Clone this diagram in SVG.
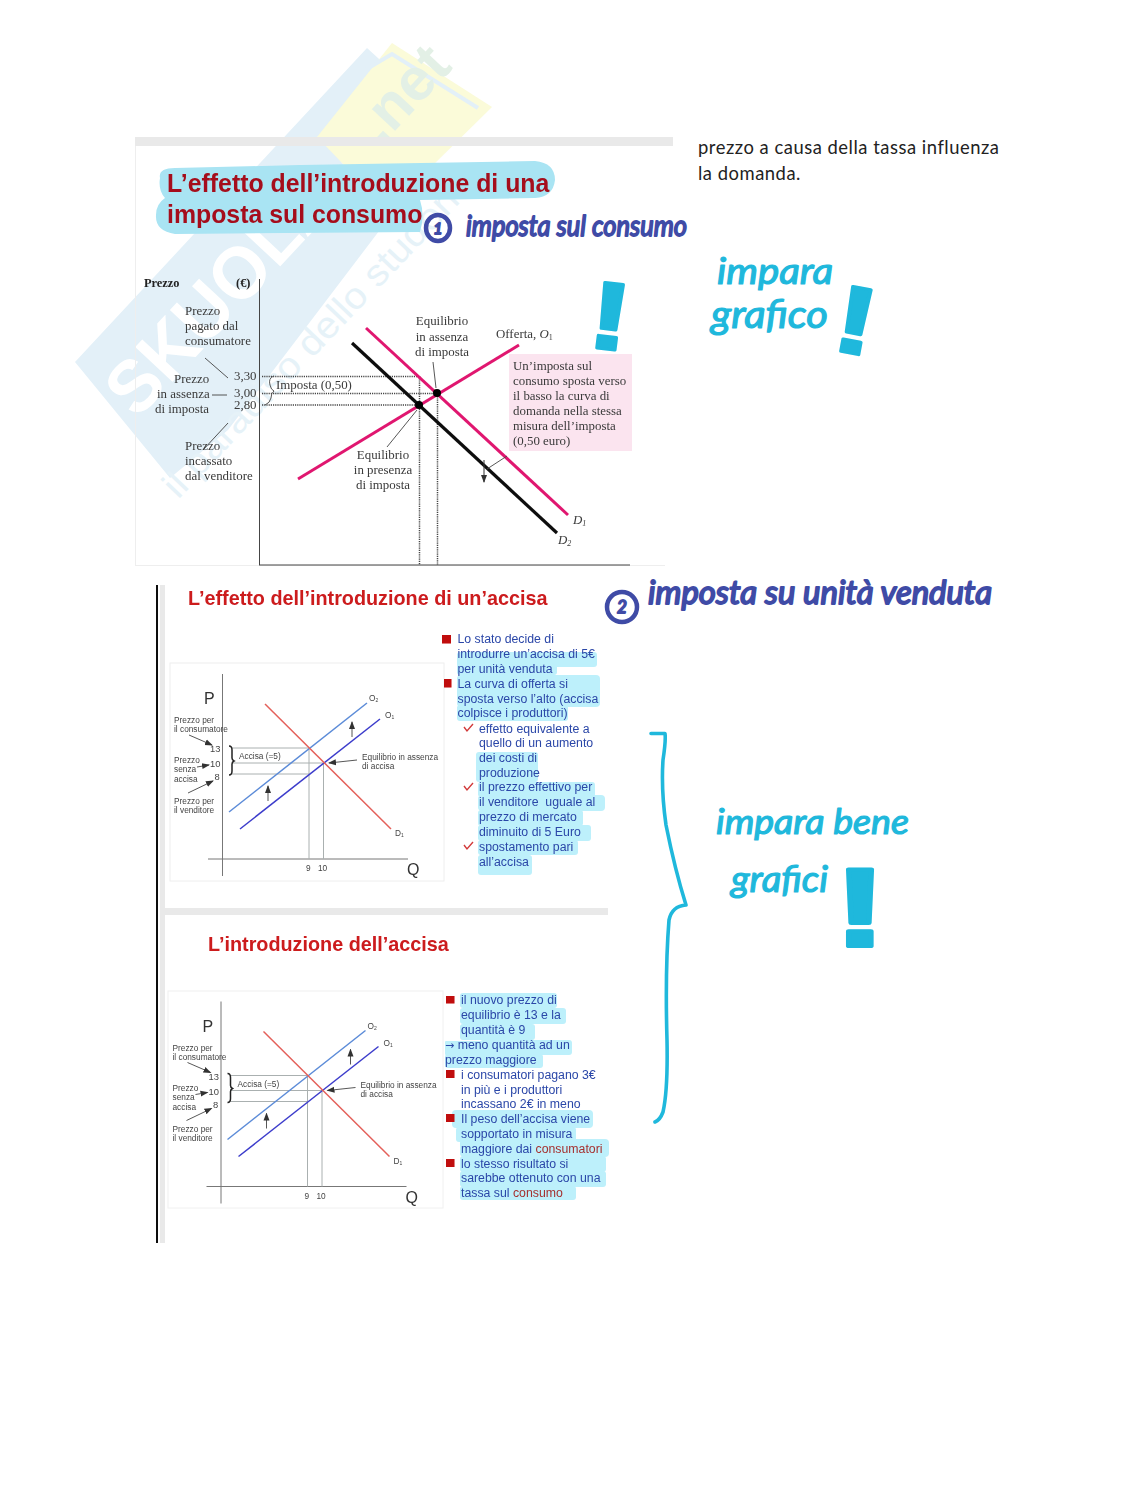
<svg xmlns="http://www.w3.org/2000/svg" width="1148" height="1485" viewBox="0 0 1148 1485">
<style>
text{font-family:"Liberation Sans",Arial,sans-serif}
.s{font-family:"Liberation Serif","Times New Roman",serif;font-size:12.9px;fill:#3a3a3a}
.sb{font-family:"Liberation Serif","Times New Roman",serif;font-size:12.4px;font-weight:bold;fill:#222}
.t{font-weight:bold;fill:#cc1a1f;font-size:19.8px}
.c{font-size:8.3px;fill:#444}
.n{font-size:9.4px;fill:#444}
.big{font-size:16px;fill:#333}
.b{font-size:12.3px;fill:#2b47a8}
.hw{font-family:"Lato",sans-serif;font-style:italic;stroke-linejoin:round}
.blue{fill:#3f4ba6;stroke:#3f4ba6;stroke-width:1.8px}
.cy{fill:#1fb8dc;stroke:#1fb8dc;stroke-width:1.2px}
.ex{font-weight:bold;fill:#1fb8dc;stroke:#1fb8dc;stroke-width:3px;stroke-linejoin:round}
.g{stroke:#aab0b0;stroke-width:1;fill:none}
.a{stroke:#444;stroke-width:.9;fill:none}
.sq{fill:#c00d0d}
.ck{fill:none;stroke:#d23a3a;stroke-width:1.4}
.bar{fill:#e9e9e9}
.dot{stroke:#444;stroke-width:1.5;stroke-dasharray:1.2 1;fill:none}
.h{fill:#bdf0fb}
</style>
<defs>
<marker id="ah" viewBox="0 0 8 8" refX="7" refY="4" markerWidth="8" markerHeight="8" markerUnits="userSpaceOnUse" orient="auto"><path d="M0 1 L8 4 L0 7 Z" fill="#333"/></marker>
<filter id="soft"><feGaussianBlur stdDeviation="0.4"/></filter>
</defs>
<rect width="1148" height="1485" fill="#fff"/>

<g id="watermark">
<polygon points="75,362 367,48 400,78 322,140 344,165 395,210 228,430 170,478" fill="#e3f0f8"/>
<polygon points="317,137 392,43 492,107 426,172 344,165" fill="#fbfbd9"/>
<polyline points="365,70 392,54 478,108" fill="none" stroke="#e3f0f8" stroke-width="4"/>
<text transform="translate(137,420) rotate(-47)" font-size="74" font-weight="bold" fill="#fff" textLength="300" lengthAdjust="spacingAndGlyphs">SKUOLA</text>
<text transform="translate(381,146) rotate(-47)" font-size="60" font-weight="bold" fill="#e3f0e6">.net</text>
<text transform="translate(178,500) rotate(-46.500)" font-size="37" fill="#e6f2f8" textLength="445" lengthAdjust="spacingAndGlyphs">il paradiso dello studente</text>
</g>

<g id="note-text">
<text x="698" y="154" font-size="18.4" fill="#222" letter-spacing=".52" style="font-family:Lato,sans-serif">prezzo a causa della tassa influenza</text>
<text x="698" y="180" font-size="18.4" fill="#222" letter-spacing=".52" style="font-family:Lato,sans-serif">la domanda.</text>
</g>

<g id="slide-consumo" filter="url(#soft)">
<rect class="bar" x="135" y="137" width="538" height="9"/>
<path d="M135.500 146V565M135 565.500H665" stroke="#eeeeee" fill="none"/>
<path d="M160 178Q158 168 175 168L300 165L535 161Q555 163 555 180Q553 197 535 198L420 200Q425 215 420 232L175 234Q155 231 156 215Q156 204 165 198Q158 190 160 178Z" fill="#a9e4f3"/>
<text x="167" y="192" font-size="24.85" font-weight="bold" fill="#a5101c">L’effetto dell’introduzione di una</text>
<text x="167" y="223" font-size="24.85" font-weight="bold" fill="#a5101c">imposta sul consumo</text>

<rect x="509" y="354" width="123" height="97" fill="#fbe4ef"/>
<path d="M259.500 279V565M259 565H630" stroke="#444" stroke-width="1" fill="none"/>
<path class="dot" d="M262 376.500H419M262 393.500H437M262 405H419M419.500 376V565M437.500 393V565"/>
<path d="M274 376Q268 378 270 385Q271 390 274 391Q271 393 271 398Q270 403 265 405" stroke="#555" fill="none"/>
<g id="curves">
<line x1="366" y1="328" x2="568" y2="515" stroke="#e0176f" stroke-width="3"/>
<line x1="298" y1="479" x2="519" y2="345" stroke="#e0176f" stroke-width="3"/>
<line x1="352" y1="343" x2="557" y2="533" stroke="#111" stroke-width="3.200"/>
<circle cx="437" cy="393" r="4"/>
<circle cx="419" cy="405" r="4"/>
<path class="a" d="M205 358L228 378M212 395H227M228 423L203 450M433 362L436 388M387 447L417 410M507 456L487 469"/>
<path d="M484 460V482" stroke="#333" marker-end="url(#ah)"/>
</g>
<text class="sb" x="144" y="287">Prezzo</text><text class="sb" x="236" y="287">(€)</text>
<text class="s" x="185" y="315">Prezzo</text><text class="s" x="185" y="330">pagato dal</text><text class="s" x="185" y="345">consumatore</text>
<text class="s" x="174" y="383">Prezzo</text><text class="s" x="157" y="398">in assenza</text><text class="s" x="155" y="413">di imposta</text>
<text class="s" x="234" y="380">3,30</text><text class="s" x="234" y="397">3,00</text><text class="s" x="234" y="409">2,80</text>
<text class="s" x="276" y="389">Imposta (0,50)</text>
<text class="s" x="185" y="450">Prezzo</text><text class="s" x="185" y="465">incassato</text><text class="s" x="185" y="480">dal venditore</text>
<g text-anchor="middle"><text class="s" x="442" y="325">Equilibrio</text><text class="s" x="442" y="341">in assenza</text><text class="s" x="442" y="356">di imposta</text>
<text class="s" x="383" y="459">Equilibrio</text><text class="s" x="383" y="474">in presenza</text><text class="s" x="383" y="489">di imposta</text></g>
<text class="s" x="496" y="338">Offerta, <tspan font-style="italic">O</tspan><tspan font-size="8" dy="2">1</tspan></text>
<text class="s" x="513" y="370">Un’imposta sul</text><text class="s" x="513" y="385">consumo sposta verso</text><text class="s" x="513" y="400">il basso la curva di</text><text class="s" x="513" y="415">domanda nella stessa</text><text class="s" x="513" y="430">misura dell’imposta</text><text class="s" x="513" y="445">(0,50 euro)</text>
<text class="s" x="573" y="524" font-style="italic">D<tspan font-size="8" dy="2">1</tspan></text>
<text class="s" x="558" y="544" font-style="italic">D<tspan font-size="8" dy="2">2</tspan></text>
</g>

<g id="slide-accisa" filter="url(#soft)">
<path d="M157 585V1243" stroke="#111" stroke-width="2"/>
<rect class="bar" x="160" y="585" width="5" height="658"/>
<text class="t" x="188" y="605">L’effetto dell’introduzione di un’accisa</text>
<rect x="170" y="663" width="274" height="218" fill="none" stroke="#eeeeee"/>
<g id="chart-a">
<path d="M222.500 674V876M208 859H408" stroke="#777" stroke-width="1" fill="none"/>
<path class="g" d="M232 748H309M232 763H324M232 774H309M309 748V859M323.500 763V859"/>
<line x1="229" y1="812" x2="367" y2="703" stroke="#5b8bd8" stroke-width="1.500"/>
<line x1="240" y1="829" x2="380" y2="719" stroke="#3c3ccb" stroke-width="1.500"/>
<line x1="265" y1="704" x2="391" y2="829" stroke="#e4605a" stroke-width="1.500"/>
<path d="M229 746Q232 746 232 750V758Q232 760 234 761Q232 762 232 764V771Q232 775 229 775" fill="none" stroke="#222" stroke-width="1.500"/>
<path class="a" marker-end="url(#ah)" d="M189 735L212 745"/><path class="a" marker-end="url(#ah)" d="M197 767L209 765"/><path class="a" marker-end="url(#ah)" d="M188 793L213 781"/><path class="a" marker-end="url(#ah)" d="M352 737V722"/><path class="a" marker-end="url(#ah)" d="M268 801V786"/><path class="a" marker-end="url(#ah)" d="M357 760L329 763"/>
<text class="big" x="204" y="704">P</text><text class="big" x="407" y="875">Q</text>
<text class="c" x="174" y="723">Prezzo per</text><text class="c" x="174" y="732">il consumatore</text>
<text class="c" x="174" y="763">Prezzo</text><text class="c" x="174" y="772">senza</text><text class="c" x="174" y="782">accisa</text>
<text class="c" x="174" y="804">Prezzo per</text><text class="c" x="174" y="813">il venditore</text>
<text class="n" x="210" y="752">13</text><text class="n" x="210" y="767">10</text><text class="n" x="214.500" y="780">8</text>
<text class="c" x="239" y="759">Accisa (=5)</text>
<text class="c" x="362" y="760">Equilibrio in assenza</text><text class="c" x="362" y="769">di accisa</text>
<text class="c" x="369" y="701">O<tspan font-size="5" dy="1">2</tspan></text><text class="c" x="385" y="718">O<tspan font-size="5" dy="1">1</tspan></text><text class="c" x="395" y="836">D<tspan font-size="5" dy="1">1</tspan></text>
<text class="c" x="306" y="871">9</text><text class="c" x="318" y="871">10</text>
</g>
<g id="hl-a">
<rect class="h" x="457" y="652" width="140" height="15" rx="3"/>
<rect class="h" x="457" y="664" width="100" height="11" rx="3"/>
<rect class="h" x="457" y="675" width="143" height="32" rx="4"/>
<rect class="h" x="457" y="705" width="111" height="16" rx="3"/>
<rect class="h" x="476" y="752" width="62" height="30" rx="3"/>
<rect class="h" x="478" y="782" width="117" height="15" rx="3"/>
<rect class="h" x="478" y="795" width="127" height="16" rx="4"/>
<rect class="h" x="478" y="810" width="105" height="16" rx="3"/>
<rect class="h" x="478" y="825" width="113" height="16" rx="3"/>
<rect class="h" x="478" y="840" width="100" height="15" rx="3"/>
<rect class="h" x="478" y="855" width="54" height="20" rx="3"/>
</g>
<rect class="sq" x="442" y="635" width="9" height="8.500"/><rect class="sq" x="444" y="679" width="7.500" height="8.500"/>
<path class="ck" d="M464 727L467 731L473 724M464 786L467 790L473 783M464 845L467 849L473 842"/>
<g>
<text class="b" x="457.500" y="643">Lo stato decide di</text><text class="b" x="457.500" y="658">introdurre un’accisa di 5€</text><text class="b" x="457.500" y="673">per unità venduta</text>
<text class="b" x="457.500" y="688">La curva di offerta si</text><text class="b" x="457.500" y="703">sposta verso l’alto (accisa</text><text class="b" x="457.500" y="717">colpisce i produttori)</text>
<text class="b" x="479" y="733">effetto equivalente a</text><text class="b" x="479" y="747">quello di un aumento</text><text class="b" x="479" y="762">dei costi di</text><text class="b" x="479" y="777">produzione</text>
<text class="b" x="479" y="791">il prezzo effettivo per</text><text class="b" x="479" y="806" xml:space="preserve">il venditore  uguale al</text><text class="b" x="479" y="821">prezzo di mercato</text><text class="b" x="479" y="836">diminuito di 5 Euro</text>
<text class="b" x="479" y="851">spostamento pari</text><text class="b" x="479" y="866">all’accisa</text>
</g>
</g>

<g id="slide-introduzione" filter="url(#soft)">
<rect class="bar" x="165" y="908" width="443" height="7"/>
<text class="t" x="208" y="951">L’introduzione dell’accisa</text>
<rect x="168" y="991" width="275" height="217" fill="none" stroke="#f0f0f0"/>
<g id="chart-b" transform="translate(-1.500,327.500)">
<path d="M222.500 674V876M208 859H408" stroke="#777" stroke-width="1" fill="none"/>
<path class="g" d="M232 748H309M232 763H324M232 774H309M309 748V859M323.500 763V859"/>
<line x1="229" y1="812" x2="367" y2="703" stroke="#5b8bd8" stroke-width="1.500"/>
<line x1="240" y1="829" x2="380" y2="719" stroke="#3c3ccb" stroke-width="1.500"/>
<line x1="265" y1="704" x2="391" y2="829" stroke="#e4605a" stroke-width="1.500"/>
<path d="M229 746Q232 746 232 750V758Q232 760 234 761Q232 762 232 764V771Q232 775 229 775" fill="none" stroke="#222" stroke-width="1.500"/>
<path class="a" marker-end="url(#ah)" d="M189 735L212 745"/><path class="a" marker-end="url(#ah)" d="M197 767L209 765"/><path class="a" marker-end="url(#ah)" d="M188 793L213 781"/><path class="a" marker-end="url(#ah)" d="M352 737V722"/><path class="a" marker-end="url(#ah)" d="M268 801V786"/><path class="a" marker-end="url(#ah)" d="M357 760L329 763"/>
<text class="big" x="204" y="704">P</text><text class="big" x="407" y="875">Q</text>
<text class="c" x="174" y="723">Prezzo per</text><text class="c" x="174" y="732">il consumatore</text>
<text class="c" x="174" y="763">Prezzo</text><text class="c" x="174" y="772">senza</text><text class="c" x="174" y="782">accisa</text>
<text class="c" x="174" y="804">Prezzo per</text><text class="c" x="174" y="813">il venditore</text>
<text class="n" x="210" y="752">13</text><text class="n" x="210" y="767">10</text><text class="n" x="214.500" y="780">8</text>
<text class="c" x="239" y="759">Accisa (=5)</text>
<text class="c" x="362" y="760">Equilibrio in assenza</text><text class="c" x="362" y="769">di accisa</text>
<text class="c" x="369" y="701">O<tspan font-size="5" dy="1">2</tspan></text><text class="c" x="385" y="718">O<tspan font-size="5" dy="1">1</tspan></text><text class="c" x="395" y="836">D<tspan font-size="5" dy="1">1</tspan></text>
<text class="c" x="306" y="871">9</text><text class="c" x="318" y="871">10</text>
</g>
<g id="hl-b">
<rect class="h" x="460" y="993" width="97" height="15" rx="3"/><rect class="h" x="460" y="1008" width="106" height="16" rx="3"/><rect class="h" x="460" y="1024" width="75" height="16" rx="3"/>
<rect class="h" x="480" y="1040" width="92" height="15" rx="3"/><rect class="h" x="445" y="1041" width="98" height="14" rx="1"/><rect class="h" x="445" y="1054" width="98" height="14" rx="3"/>
<rect class="h" x="452" y="1110" width="141" height="18" rx="4"/><rect class="h" x="456" y="1127" width="120" height="15" rx="3"/><rect class="h" x="460" y="1139" width="149" height="18" rx="4"/><rect class="h" x="460" y="1156" width="146" height="16" rx="3"/><rect class="h" x="460" y="1171" width="146" height="16" rx="3"/><rect class="h" x="460" y="1186" width="116" height="14" rx="3"/>
</g>
<rect class="sq" x="446" y="996" width="8.500" height="7.500"/><rect class="sq" x="446" y="1070" width="8.500" height="8"/><rect class="sq" x="446" y="1114" width="8.500" height="8"/><rect class="sq" x="446" y="1159" width="8.500" height="8"/>
<text class="b" x="461" y="1004">il nuovo prezzo di</text><text class="b" x="461" y="1019">equilibrio è 13 e la</text><text class="b" x="461" y="1034">quantità è 9</text>
<text class="b" x="445" y="1049"><tspan style="font-family:'DejaVu Sans',sans-serif" font-size="11">→</tspan> meno quantità ad un</text><text class="b" x="445" y="1064">prezzo maggiore</text>
<text class="b" x="461" y="1079">i consumatori pagano 3€</text><text class="b" x="461" y="1094">in più e i produttori</text><text class="b" x="461" y="1108">incassano 2€ in meno</text>
<text class="b" x="461" y="1123">Il peso dell’accisa viene</text><text class="b" x="461" y="1138">sopportato in misura</text><text class="b" x="461" y="1153">maggiore dai <tspan fill="#a5302f">consumatori</tspan></text>
<text class="b" x="461" y="1168">lo stesso risultato si</text><text class="b" x="461" y="1182">sarebbe ottenuto con una</text><text class="b" x="461" y="1197">tassa sul <tspan fill="#a5302f">consumo</tspan></text>
</g>

<g id="annotations">
<ellipse cx="438" cy="228" rx="12" ry="13" fill="none" stroke="#3f4ba6" stroke-width="4.500"/>
<text class="hw blue" x="438" y="234" font-size="16" text-anchor="middle">1</text>
<text class="hw blue" x="466" y="236" font-size="29" textLength="221" lengthAdjust="spacingAndGlyphs">imposta sul consumo</text>
<circle cx="622" cy="607" r="15" fill="none" stroke="#3f4ba6" stroke-width="4.500"/>
<text class="hw blue" x="622" y="613" font-size="17" text-anchor="middle">2</text>
<text class="hw blue" x="648" y="604" font-size="32" textLength="344" lengthAdjust="spacingAndGlyphs">imposta su unità venduta</text>
<text class="hw cy" x="717" y="284" font-size="36" textLength="116" lengthAdjust="spacingAndGlyphs">impara</text>
<text class="hw cy" x="711" y="328" font-size="38" textLength="117" lengthAdjust="spacingAndGlyphs">grafico</text>
<text class="hw cy" x="716" y="834" font-size="34" textLength="193" lengthAdjust="spacingAndGlyphs">impara bene</text>
<text class="hw cy" x="731" y="892" font-size="36" textLength="97" lengthAdjust="spacingAndGlyphs">grafici</text>
<text class="ex" transform="translate(606,349) rotate(7) scale(1.300,1)" font-size="96" text-anchor="middle">!</text>
<text class="ex" transform="translate(850,353) rotate(10.500) scale(1.300,1)" font-size="96" text-anchor="middle">!</text>
<text class="ex" transform="translate(860,946) scale(1.400,1)" font-size="112" text-anchor="middle" style="stroke-width:4px">!</text>
<path d="M651 733.500H665Q666 740 663 760Q661 790 666 825Q675 870 686 905Q672 906 669 920Q665 970 667 1040Q668 1090 663 1112Q660 1120 655 1122" fill="none" stroke="#1fb8dc" stroke-width="3.600" stroke-linecap="round" stroke-linejoin="round"/>
</g>
</svg>
